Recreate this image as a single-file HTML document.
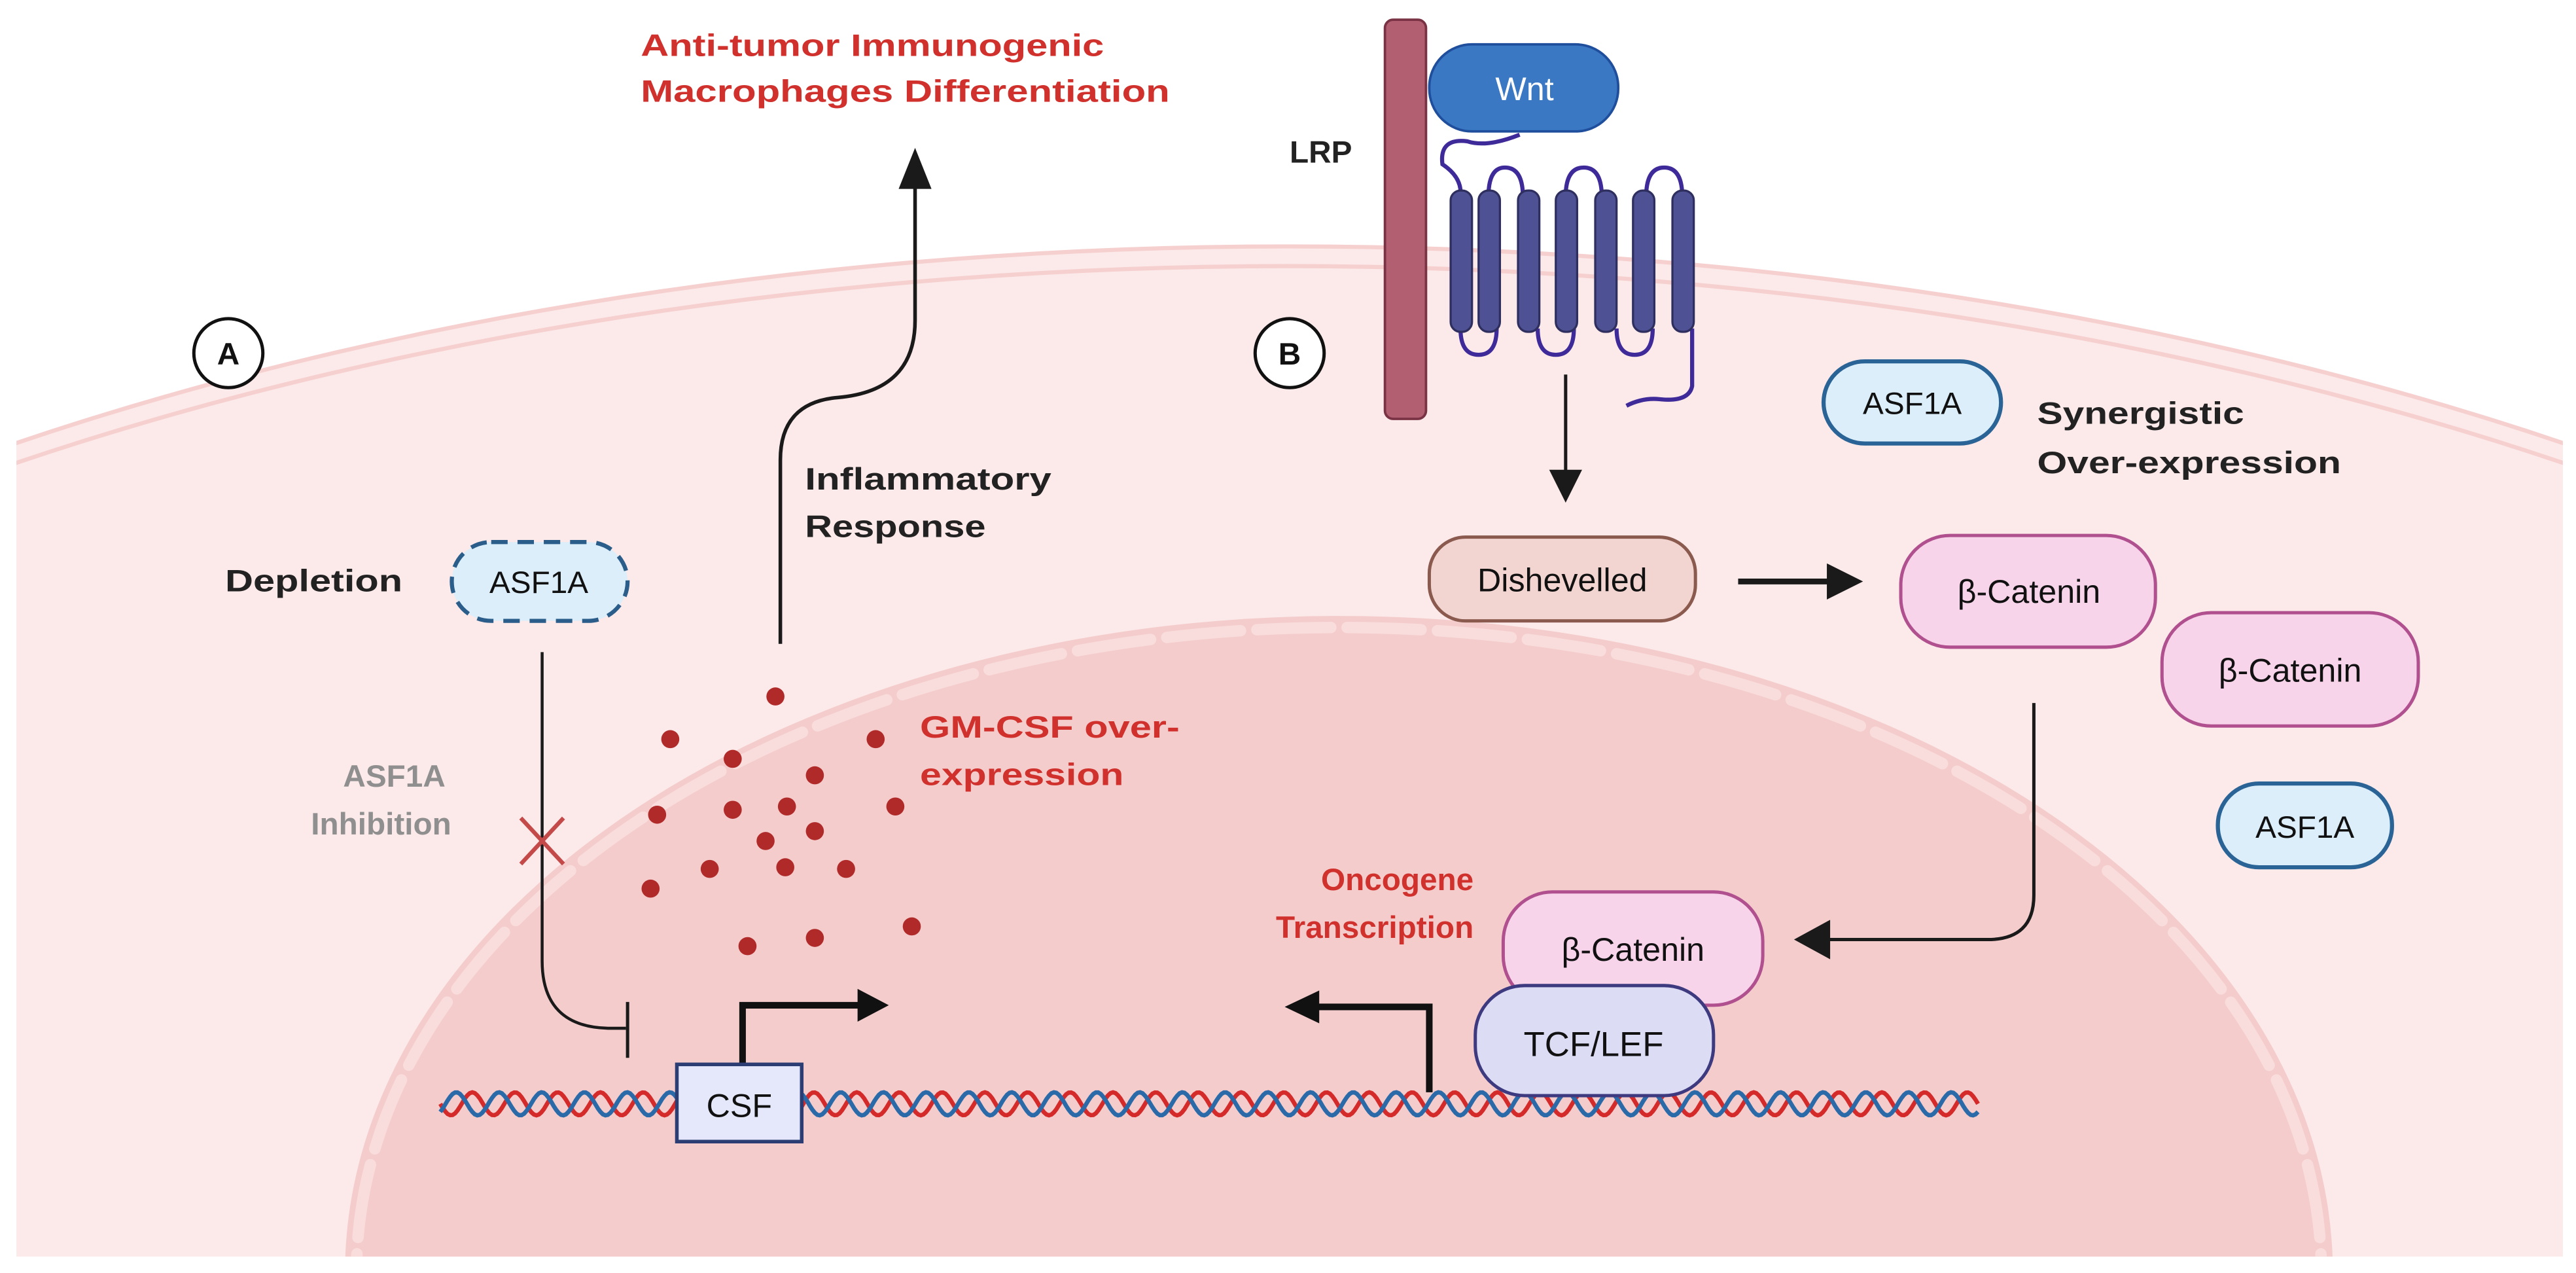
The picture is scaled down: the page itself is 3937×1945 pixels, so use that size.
<!DOCTYPE html>
<html><head><meta charset="utf-8"><style>
html,body{margin:0;padding:0;background:#fff;width:3937px;height:1945px;overflow:hidden;}
svg{display:block;}
text{font-family:"Liberation Sans Narrow","Liberation Sans",sans-serif;}
</style></head><body>
<svg width="3937" height="1945" viewBox="0 0 1568 775" preserveAspectRatio="none" xmlns="http://www.w3.org/2000/svg">
<defs>
<clipPath id="box"><rect x="10" y="0" width="1550" height="765"/></clipPath>
</defs>
<rect width="1568" height="775" fill="#fff"/>
<g clip-path="url(#box)">
 <ellipse cx="785" cy="900" rx="1430" ry="750" fill="#fce9e9"/>
 <ellipse cx="785" cy="900" rx="1430" ry="750" fill="none" stroke="#f6cfcf" stroke-width="2.5"/>
 <ellipse cx="785" cy="908" rx="1426" ry="746" fill="none" stroke="#f6cfcf" stroke-width="2.5"/>
 <ellipse cx="815" cy="775" rx="605" ry="400" fill="#f4cccc"/>
 <ellipse cx="815" cy="775" rx="598" ry="393" fill="none" stroke="#f9dcdc" stroke-width="7" stroke-dasharray="45 10" stroke-linecap="round"/>
</g>

<circle cx="139" cy="215" r="21" fill="#fff" stroke="#111" stroke-width="2"/>
<text x="139" y="222" font-size="19" font-weight="bold" text-anchor="middle" fill="#111">A</text>
<circle cx="785" cy="215" r="21" fill="#fff" stroke="#111" stroke-width="2"/>
<text x="785" y="222" font-size="19" font-weight="bold" text-anchor="middle" fill="#111">B</text>

<text x="390" y="34" font-size="19" font-weight="bold" fill="#d0312d" textLength="282" lengthAdjust="spacingAndGlyphs">Anti-tumor Immunogenic</text>
<text x="390" y="62" font-size="19" font-weight="bold" fill="#d0312d" textLength="322" lengthAdjust="spacingAndGlyphs">Macrophages Differentiation</text>

<path d="M475,392 L475,280 Q475,245 510,242 Q557,238 557,195 L557,110" fill="none" stroke="#1a1a1a" stroke-width="2.2"/>
<path d="M547,115 L557,90 L567,115 z" fill="#1a1a1a"/>

<text x="490" y="298" font-size="19" font-weight="bold" fill="#222" textLength="150" lengthAdjust="spacingAndGlyphs">Inflammatory</text>
<text x="490" y="327" font-size="19" font-weight="bold" fill="#222" textLength="110" lengthAdjust="spacingAndGlyphs">Response</text>

<text x="137" y="360" font-size="19" font-weight="bold" fill="#222" textLength="108" lengthAdjust="spacingAndGlyphs">Depletion</text>
<rect x="275" y="330" width="107" height="48" rx="24" fill="#dceefa" stroke="#2a5d8a" stroke-width="2.5" stroke-dasharray="10 6"/>
<text x="328" y="361" font-size="19" text-anchor="middle" fill="#111">ASF1A</text>

<text x="240" y="479" font-size="19" font-weight="bold" fill="#8f8f8f" text-anchor="middle">ASF1A</text>
<text x="232" y="508" font-size="19" font-weight="bold" fill="#8f8f8f" text-anchor="middle">Inhibition</text>

<path d="M330,397 L330,585 Q330,625 370,626 L381,626" fill="none" stroke="#1a1a1a" stroke-width="1.8"/>
<line x1="382" y1="610" x2="382" y2="644" stroke="#1a1a1a" stroke-width="2"/>
<path d="M317,498 L343,526 M343,498 L317,526" stroke="#c44a4a" stroke-width="2.5"/>

<text x="560" y="449" font-size="19" font-weight="bold" fill="#d0312d" textLength="158" lengthAdjust="spacingAndGlyphs">GM-CSF over-</text>
<text x="560" y="478" font-size="19" font-weight="bold" fill="#d0312d" textLength="124" lengthAdjust="spacingAndGlyphs">expression</text>
<g fill="#b02a2a">
<circle cx="472" cy="424" r="5.5"/><circle cx="408" cy="450" r="5.5"/><circle cx="533" cy="450" r="5.5"/>
<circle cx="446" cy="462" r="5.5"/><circle cx="496" cy="472" r="5.5"/><circle cx="545" cy="491" r="5.5"/>
<circle cx="400" cy="496" r="5.5"/><circle cx="446" cy="493" r="5.5"/><circle cx="479" cy="491" r="5.5"/>
<circle cx="496" cy="506" r="5.5"/><circle cx="466" cy="512" r="5.5"/><circle cx="432" cy="529" r="5.5"/>
<circle cx="478" cy="528" r="5.5"/><circle cx="515" cy="529" r="5.5"/><circle cx="396" cy="541" r="5.5"/>
<circle cx="555" cy="564" r="5.5"/><circle cx="455" cy="576" r="5.5"/><circle cx="496" cy="571" r="5.5"/>
</g>

<path id="dnaR" fill="none" stroke="#d42a2a" stroke-width="2.6"/>
<path id="dnaB" fill="none" stroke="#2a6aa8" stroke-width="2.6"/>

<path d="M452,648 L452,612 L525,612" fill="none" stroke="#111" stroke-width="4"/>
<path d="M522,602 L541,612 L522,622 z" fill="#111"/>
<rect x="412" y="648" width="76" height="47" fill="#e4e8fa" stroke="#2b3d73" stroke-width="2.2"/>
<text x="450" y="680" font-size="20" text-anchor="middle" fill="#111">CSF</text>

<rect x="843" y="12" width="25" height="243" rx="5" fill="#b35f72" stroke="#7a3344" stroke-width="1.5"/>
<text x="785" y="99" font-size="19" font-weight="bold" fill="#222">LRP</text>
<path d="M925,82 Q905,90 893,86 Q876,84 878,100 Q890,108 889,119" fill="none" stroke="#3e2a99" stroke-width="2.5"/>
<g fill="none" stroke="#3e2a99" stroke-width="2.5">
<path d="M906,120 Q906,102 916,102 Q927,102 927,120"/>
<path d="M953,120 Q953,102 964,102 Q975,102 975,120"/>
<path d="M1002,120 Q1002,102 1013,102 Q1024,102 1024,120"/>
<path d="M889,200 Q889,216 900,216 Q911,216 911,200"/>
<path d="M936,200 Q936,216 947,216 Q958,216 958,200"/>
<path d="M984,200 Q984,216 995,216 Q1006,216 1006,200"/>
<path d="M1030,200 L1030,235 Q1028,245 1010,243 Q1000,242 990,247"/>
</g>
<g fill="#4e5193" stroke="#2e2f5f" stroke-width="1.3">
<rect x="883" y="116" width="13" height="86" rx="6"/>
<rect x="900" y="116" width="13" height="86" rx="6"/>
<rect x="924" y="116" width="13" height="86" rx="6"/>
<rect x="947" y="116" width="13" height="86" rx="6"/>
<rect x="971" y="116" width="13" height="86" rx="6"/>
<rect x="994" y="116" width="13" height="86" rx="6"/>
<rect x="1018" y="116" width="13" height="86" rx="6"/>
</g>
<rect x="870" y="27" width="115" height="53" rx="26" fill="#3b78c4" stroke="#1f4f9c" stroke-width="1.5"/>
<text x="928" y="61" font-size="20" text-anchor="middle" fill="#fff">Wnt</text>

<line x1="953" y1="228" x2="953" y2="288" stroke="#1a1a1a" stroke-width="2"/>
<path d="M943,286 L953,306 L963,286 z" fill="#1a1a1a"/>

<rect x="870" y="327" width="162" height="51" rx="22" fill="#f2d5d0" stroke="#8b5a4f" stroke-width="2"/>
<text x="951" y="360" font-size="20" text-anchor="middle" fill="#111">Dishevelled</text>

<line x1="1058" y1="354" x2="1115" y2="354" stroke="#1a1a1a" stroke-width="3.5"/>
<path d="M1112,343 L1134,354 L1112,365 z" fill="#1a1a1a"/>

<rect x="1110" y="220" width="108" height="50" rx="25" fill="#dceefa" stroke="#2a6496" stroke-width="2.5"/>
<text x="1164" y="252" font-size="19" text-anchor="middle" fill="#111">ASF1A</text>
<text x="1240" y="258" font-size="19" font-weight="bold" fill="#222" textLength="126" lengthAdjust="spacingAndGlyphs">Synergistic</text>
<text x="1240" y="288" font-size="19" font-weight="bold" fill="#222" textLength="185" lengthAdjust="spacingAndGlyphs">Over-expression</text>

<rect x="1157" y="326" width="155" height="68" rx="30" fill="#f7d4ea" stroke="#b0508f" stroke-width="2"/>
<text x="1235" y="367" font-size="20" text-anchor="middle" fill="#111">β-Catenin</text>
<rect x="1316" y="373" width="156" height="69" rx="30" fill="#f7d4ea" stroke="#b0508f" stroke-width="2"/>
<text x="1394" y="415" font-size="20" text-anchor="middle" fill="#111">β-Catenin</text>

<rect x="1350" y="477" width="106" height="51" rx="25" fill="#dceefa" stroke="#2a6496" stroke-width="2.5"/>
<text x="1403" y="510" font-size="19" text-anchor="middle" fill="#111">ASF1A</text>

<path d="M1238,428 L1238,545 Q1238,572 1210,572 L1110,572" fill="none" stroke="#1a1a1a" stroke-width="2"/>
<path d="M1114,560 L1092,572 L1114,584 z" fill="#1a1a1a"/>

<text x="897" y="542" font-size="19" font-weight="bold" fill="#d0312d" text-anchor="end">Oncogene</text>
<text x="897" y="571" font-size="19" font-weight="bold" fill="#d0312d" text-anchor="end">Transcription</text>

<path d="M870,665 L870,613 L800,613" fill="none" stroke="#111" stroke-width="4"/>
<path d="M803,603 L782,613 L803,623 z" fill="#111"/>

<rect x="915" y="543" width="158" height="69" rx="30" fill="#f7d4ea" stroke="#b0508f" stroke-width="2"/>
<text x="994" y="585" font-size="20" text-anchor="middle" fill="#111">β-Catenin</text>
<rect x="898" y="600" width="145" height="67" rx="30" fill="#dcdcf5" stroke="#3d3a80" stroke-width="2"/>
<text x="970" y="643" font-size="21" text-anchor="middle" fill="#111">TCF/LEF</text>
</svg>
<script>
(function(){
 function wave(phase){
  var d="",x0=268,x1=1205,y0=672,A=7,P=26;
  for(var x=x0;x<=x1;x+=1.5){
   var y=y0+A*Math.sin((x-x0)/P*2*Math.PI+phase);
   d+=(x===x0?"M":"L")+x.toFixed(1)+","+y.toFixed(1);
  }
  return d;
 }
 document.getElementById("dnaR").setAttribute("d",wave(0));
 document.getElementById("dnaB").setAttribute("d",wave(Math.PI*0.75));
})();
</script>
</body></html>
